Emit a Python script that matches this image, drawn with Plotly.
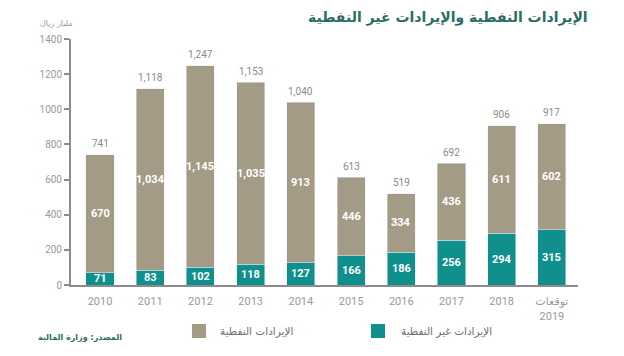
import plotly.graph_objects as go

years = ["2010", "2011", "2012", "2013", "2014", "2015", "2016", "2017", "2018", "2019"]
year_labels = ["2010", "2011", "2012", "2013", "2014", "2015", "2016", "2017", "2018", "توقعات<br>2019"]
non_oil = [71, 83, 102, 118, 127, 166, 186, 256, 294, 315]
oil = [670, 1034, 1145, 1035, 913, 446, 334, 436, 611, 602]
totals = [741, 1118, 1247, 1153, 1040, 613, 519, 692, 906, 917]
y_ticks = [0, 200, 400, 600, 800, 1000, 1200, 1400]

name_oil = "الإيرادات النفطية"
name_non_oil = "الإيرادات غير النفطية"
title_text = "الإيرادات النفطية والإيرادات غير النفطية"
unit_text = "مليار ريال"
source_text = "المصدر: وزارة المالية"

C_OIL = "#a49b86"
C_NON = "#10908d"
C_TITLE = "#2c6d61"
C_AXIS = "#8c8c8c"
C_TICK = "#9a9a9a"
NUM_FONT = "Roboto, DejaVu Sans, sans-serif"
AR_FONT = "DejaVu Sans, Noto Sans, sans-serif"

xs = list(range(len(years)))

# page offset (body margin) compensation
OFF = 8
W, H = 624, 356
L = 71 - OFF
T = 39 - OFF
R = W - (578 - OFF)
B = H - (285 - OFF)
pw, ph = W - L - R, H - T - B


def px_x(p):
    return (p - OFF - L) / pw


def px_y(p):
    return 1 - (p - OFF - T) / ph


fig = go.Figure()
fig.add_trace(go.Bar(x=xs, y=non_oil, name=name_non_oil, marker_color=C_NON,
                     width=0.56, hoverinfo="skip"))
fig.add_trace(go.Bar(x=xs, y=oil, name=name_oil, marker_color=C_OIL,
                     width=0.56, hoverinfo="skip"))

ann = []
for i in xs:
    ann.append(dict(x=i, y=non_oil[i] / 2, text=f"<b>{non_oil[i]:,}</b>", showarrow=False,
                    font=dict(family=NUM_FONT, size=11, color="white"), xref="x", yref="y"))
    ann.append(dict(x=i, y=non_oil[i] + oil[i] / 2, text=f"<b>{oil[i]:,}</b>", showarrow=False,
                    font=dict(family=NUM_FONT, size=11, color="white"), xref="x", yref="y"))
    ann.append(dict(x=i, y=totals[i], yshift=11, text=f"{totals[i]:,}", showarrow=False,
                    font=dict(family=NUM_FONT, size=10, color="#8a8a8a"), xref="x", yref="y"))


def paper_ann(x, y, text, size, color, xanchor="center"):
    return dict(x=px_x(x), y=px_y(y), xref="paper", yref="paper", text=text, showarrow=False,
                xanchor=xanchor, yanchor="middle", font=dict(family=AR_FONT, size=size, color=color))


ann.append(paper_ann(590, 18, f"<b>{title_text}</b>", 14, C_TITLE, xanchor="right"))
ann.append(paper_ann(56, 24, unit_text, 8, "#9a9a9a"))
ann.append(paper_ann(80, 337, f"<b>{source_text}</b>", 8, C_TITLE))
ann.append(paper_ann(256, 331, name_oil, 10.5, "#6e6e6e"))
ann.append(paper_ann(446, 331, name_non_oil, 10.5, "#6e6e6e"))

shapes = [
    dict(type="rect", xref="paper", yref="paper", x0=px_x(192), x1=px_x(206), y0=px_y(338), y1=px_y(324),
         fillcolor=C_OIL, line=dict(width=0)),
    dict(type="rect", xref="paper", yref="paper", x0=px_x(371), x1=px_x(385), y0=px_y(338), y1=px_y(324),
         fillcolor=C_NON, line=dict(width=0)),
]

fig.update_layout(
    width=W, height=H,
    margin=dict(l=L, r=R, t=T, b=B),
    barmode="stack",
    showlegend=False,
    plot_bgcolor="white", paper_bgcolor="white",
    annotations=ann,
    shapes=shapes,
    xaxis=dict(range=[-0.578, 9.52], tickmode="array", tickvals=xs, ticktext=year_labels,
               showgrid=False, zeroline=False, showline=True, linecolor=C_AXIS, linewidth=2,
               ticks="", ticklabelstandoff=5,
               tickfont=dict(family=NUM_FONT, size=11, color=C_TICK)),
    yaxis=dict(range=[0, 1400], tickmode="array", tickvals=y_ticks, ticktext=[str(v) for v in y_ticks],
               showgrid=False, zeroline=False, showline=True, linecolor=C_AXIS, linewidth=2,
               ticks="outside", ticklen=5, tickwidth=2, tickcolor=C_AXIS,
               tickfont=dict(family=NUM_FONT, size=10, color=C_TICK)),
)

fig.write_html("out.html")
